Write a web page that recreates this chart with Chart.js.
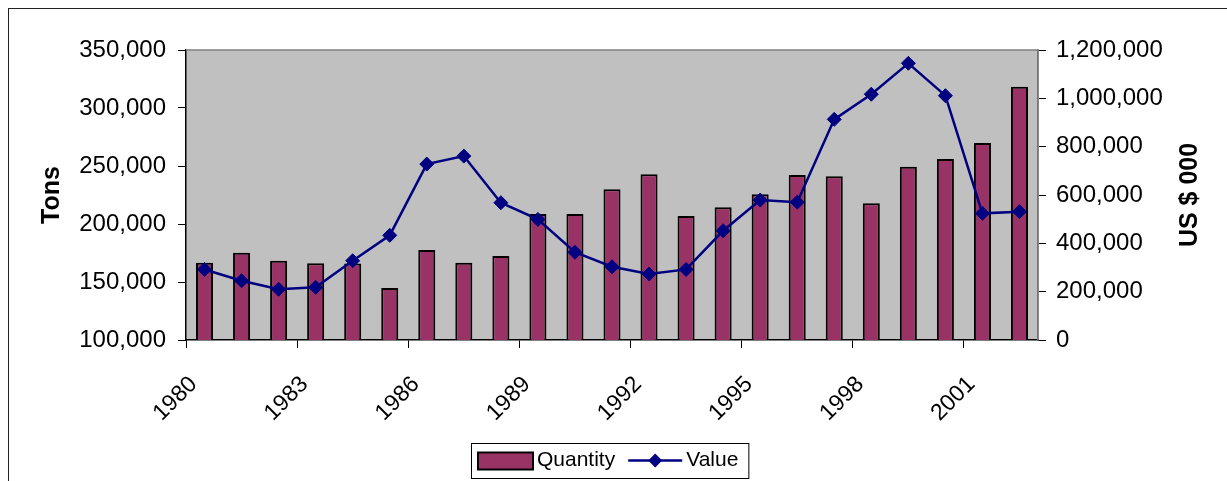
<!DOCTYPE html>
<html>
<head>
<meta charset="utf-8">
<script src="https://cdn.jsdelivr.net/npm/chart.js@4.4.1/dist/chart.umd.min.js"></script>
<style>
  html, body { margin: 0; padding: 0; background: #fff; }
  #wrap { width: 1227px; height: 481px; }
</style>
</head>
<body>
<div id="wrap"><canvas id="chart" width="1227" height="481"></canvas></div>
<script>
const years = ["1980","1981","1982","1983","1984","1985","1986","1987","1988","1989","1990",
  "1991","1992","1993","1994","1995","1996","1997","1998","1999","2000","2001","2002"];
const shownYears = ["1980","1983","1986","1989","1992","1995","1998","2001"];

// Quantity (tons) – bars, left axis
const quantity = [166600, 175300, 168400, 166100, 166000, 144800, 177600, 166600, 172400, 208600,
  208600, 229900, 242800, 206900, 214400, 225600, 242200, 241100, 217800, 249400, 256000, 269800, 318400];

// Value (US $ 000) – line, right axis
const value = [292000, 245000, 210000, 218000, 328000, 433000, 728000, 761000, 568000, 499000,
  363000, 303000, 273000, 292000, 452000, 579000, 570000, 913000, 1017000, 1145000, 1011000, 524000, 531000];

const FONT = "'Liberation Sans', Arial, sans-serif";
const BAR = "#993366";
const NAVY = "#000080";

function fmt(v) {
  return String(v).replace(/\B(?=(\d{3})+(?!\d))/g, ",");
}

function diamond(ctx, x, y, r) {
  ctx.beginPath();
  ctx.moveTo(x, y - r);
  ctx.lineTo(x + r, y);
  ctx.lineTo(x, y + r);
  ctx.lineTo(x - r, y);
  ctx.closePath();
  ctx.fill();
}

const decor = {
  id: "decor",
  beforeDraw(chart) {
    const { ctx, chartArea: a } = chart;
    ctx.save();
    ctx.fillStyle = "#fff";
    ctx.fillRect(0, 0, chart.width, chart.height);
    ctx.fillStyle = "#c0c0c0";
    ctx.fillRect(a.left, a.top, a.right - a.left, a.bottom - a.top);
    // outer frame
    ctx.strokeStyle = "#222";
    ctx.lineWidth = 1;
    ctx.strokeRect(8.5, 8.5, 1400, 600);
    ctx.restore();
  },
  beforeDatasetsDraw(chart) {
    const { ctx, chartArea: a } = chart;
    ctx.save();
    ctx.strokeStyle = "#808080";
    ctx.lineWidth = 1.5;
    ctx.beginPath();
    ctx.moveTo(a.left, a.top);
    ctx.lineTo(a.right, a.top);
    ctx.lineTo(a.right, a.bottom);
    ctx.stroke();
    ctx.restore();
  },
  afterDraw(chart) {
    const { ctx, chartArea: a } = chart;
    const midY = (a.top + a.bottom) / 2;
    ctx.save();
    ctx.fillStyle = "#000";
    ctx.font = "bold 25px " + FONT;
    ctx.textAlign = "center";
    ctx.textBaseline = "middle";
    ctx.translate(52, midY);
    ctx.rotate(-Math.PI / 2);
    ctx.fillText("Tons", 0, 0);
    ctx.restore();

    ctx.save();
    ctx.fillStyle = "#000";
    ctx.font = "bold 25px " + FONT;
    ctx.textAlign = "center";
    ctx.textBaseline = "middle";
    ctx.translate(1190, midY);
    ctx.rotate(-Math.PI / 2);
    ctx.fillText("US $ 000", 0, 0);
    ctx.restore();

    // legend
    ctx.save();
    ctx.font = "21px " + FONT;
    ctx.textBaseline = "middle";
    const boxX = 471, boxY = 443, boxH = 35;
    const cy = boxY + boxH / 2;
    const wQ = ctx.measureText("Quantity").width;
    const wV = ctx.measureText("Value").width;
    let x = boxX + 7;
    ctx.fillStyle = BAR;
    ctx.fillRect(x, cy - 8, 55, 17);
    ctx.strokeStyle = "#000";
    ctx.lineWidth = 2;
    ctx.strokeRect(x, cy - 8, 55, 17);
    x += 59;
    ctx.fillStyle = "#000";
    ctx.fillText("Quantity", x, cy);
    x += wQ + 13;
    ctx.strokeStyle = NAVY;
    ctx.lineWidth = 2.5;
    ctx.beginPath();
    ctx.moveTo(x, cy);
    ctx.lineTo(x + 54, cy);
    ctx.stroke();
    ctx.fillStyle = NAVY;
    diamond(ctx, x + 27, cy, 7);
    x += 58;
    ctx.fillStyle = "#000";
    ctx.fillText("Value", x, cy);
    const boxW = x + wV + 10 - boxX;
    ctx.strokeStyle = "#000";
    ctx.lineWidth = 1;
    ctx.strokeRect(boxX + 0.5, boxY + 0.5, boxW, boxH);
    ctx.restore();
  }
};

new Chart(document.getElementById("chart"), {
  data: {
    labels: years,
    datasets: [
      {
        type: "line",
        label: "Value",
        data: value,
        yAxisID: "y1",
        borderColor: NAVY,
        borderWidth: 2.5,
        backgroundColor: NAVY,
        pointStyle: "rectRot",
        pointRadius: 7,
        pointBackgroundColor: NAVY,
        pointBorderColor: NAVY,
        pointBorderWidth: 1,
        tension: 0,
        order: 0
      },
      {
        type: "bar",
        label: "Quantity",
        data: quantity,
        yAxisID: "y",
        backgroundColor: BAR,
        borderColor: "#000",
        borderWidth: 2,
        borderSkipped: "start",
        categoryPercentage: 1,
        barPercentage: 0.46,
        order: 1
      }
    ]
  },
  options: {
    responsive: false,
    animation: false,
    devicePixelRatio: 1,
    layout: { padding: { top: 50, left: 0, right: 0, bottom: 0 } },
    plugins: {
      legend: { display: false },
      tooltip: { enabled: false }
    },
    scales: {
      x: {
        offset: true,
        grid: {
          offset: true,
          drawOnChartArea: false,
          drawTicks: true,
          tickLength: 8,
          tickColor: c => (c.index % 3 === 0 ? "#000" : "rgba(0,0,0,0)"),
          lineWidth: 1
        },
        border: { color: "#000", width: 1.5 },
        ticks: {
          autoSkip: false,
          minRotation: 45,
          maxRotation: 45,
          padding: 23,
          labelOffset: -11,
          color: "#000",
          font: { family: FONT, size: 23 },
          callback: (v, i) => (shownYears.includes(years[i]) ? years[i] : "")
        },
        afterFit: s => { s.height = 141; }
      },
      y: {
        position: "left",
        min: 100000,
        max: 350000,
        grid: { drawOnChartArea: false, tickLength: 8, tickColor: "#000" },
        border: { color: "#000", width: 1.5 },
        ticks: {
          stepSize: 50000,
          padding: 12,
          color: "#000",
          font: { family: FONT, size: 24 },
          callback: v => fmt(v)
        },
        afterFit: s => { s.width = 186; }
      },
      y1: {
        position: "right",
        min: 0,
        max: 1200000,
        grid: { drawOnChartArea: false, tickLength: 8, tickColor: "#000" },
        border: { color: "#555", width: 1.5 },
        ticks: {
          stepSize: 200000,
          padding: 10,
          color: "#000",
          font: { family: FONT, size: 24 },
          callback: v => fmt(v)
        },
        afterFit: s => { s.width = 189; }
      }
    }
  },
  plugins: [decor]
});
</script>
</body>
</html>
